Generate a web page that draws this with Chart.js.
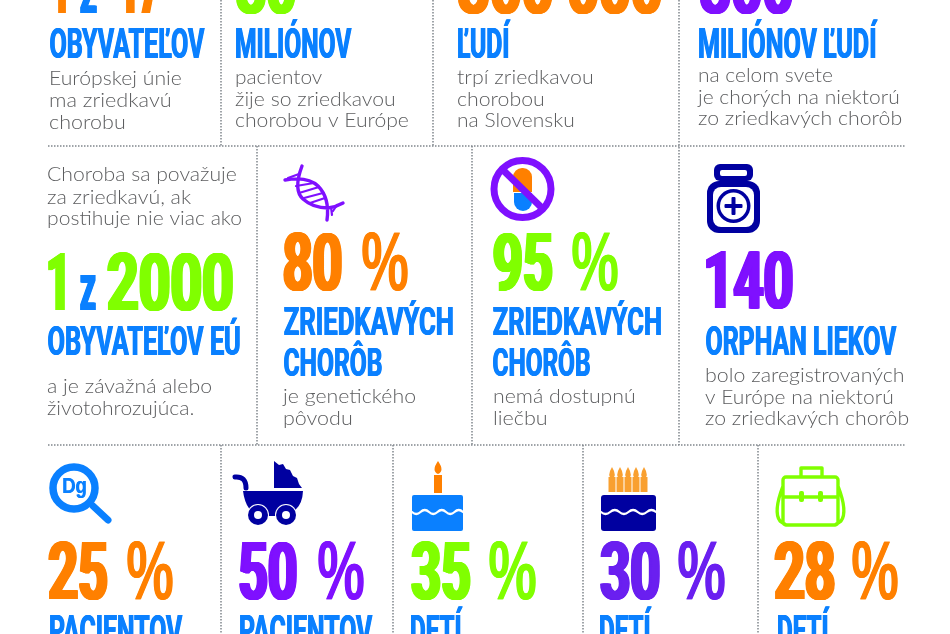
<!DOCTYPE html>
<html lang="sk">
<head>
<meta charset="utf-8">
<title>Zriedkavé choroby</title>
<script src="https://cdn.jsdelivr.net/npm/chart.js@4"></script>
<style>
html, body { margin: 0; background: #fff; overflow: hidden; }
canvas { display: block; }
</style>
</head>
<body>
<canvas id="infographic" width="950" height="634"></canvas>
<script>
// values
const topFigures = ['1', '17', '30', '300 000', '300'];
const middleFigures = ['1', '2000', '140'];
const percentValues = [80, 95, 25, 50, 35, 30, 28];
const headings = ['OBYVATEĽOV', 'MILIÓNOV', 'ĽUDÍ', 'MILIÓNOV ĽUDÍ', 'OBYVATEĽOV EÚ',
    'ZRIEDKAVÝCH', 'CHORÔB', 'ZRIEDKAVÝCH', 'CHORÔB', 'ORPHAN LIEKOV',
    'PACIENTOV', 'PACIENTOV', 'DETÍ', 'DETÍ', 'DETÍ'];
const captions = ['Európskej únie', 'ma zriedkavú', 'chorobu',
    'pacientov', 'žije so zriedkavou', 'chorobou v Európe',
    'trpí zriedkavou', 'chorobou', 'na Slovensku',
    'na celom svete', 'je chorých na niektorú', 'zo zriedkavých chorôb',
    'Choroba sa považuje', 'za zriedkavú, ak', 'postihuje nie viac ako',
    'a je závažná alebo', 'životohrozujúca.',
    'je genetického', 'pôvodu',
    'nemá dostupnú', 'liečbu',
    'bolo zaregistrovaných', 'v Európe na niektorú', 'zo zriedkavých chorôb'];

const ORANGE = '#ff8000', GREEN = '#80ff00', BLUE = '#0a80ff', PURPLE = '#7f10ff', NAVY = '#0000a0';

// layout: left, right, baseline (and colour) of each text above, same order
const topFigureBoxes = [[53, 66, 13, ORANGE], [120, 160, 13, ORANGE], [236, 296, 13, GREEN], [458, 662, 13, ORANGE], [700, 793, 13, PURPLE]];
const middleFigureBoxes = [[48, 65, 310, GREEN], [107, 233, 310, GREEN], [706, 793, 308, PURPLE]];
const percentBoxes = [[283, 342, 362, 408, 290, ORANGE], [493, 553, 572, 618, 290, GREEN],
    [48, 108, 127, 173, 599, ORANGE], [239, 297, 318, 364, 599, PURPLE],
    [411, 471, 489, 536, 599, GREEN], [600, 660, 678, 725, 599, '#6a1ff0'], [774, 835, 852, 898, 599, ORANGE]];
const zBoxes = [[80, 97, 13], [80, 96, 310]];
const headingBoxes = [[50, 205, 58, 30], [236, 352, 58, 30], [458, 511, 58, 30], [699, 878, 58, 30], [48, 240, 355, 29],
    [284, 453, 335, 28], [284, 382, 376, 28], [493, 661, 335, 28], [493, 590, 376, 28], [706, 897, 355, 29],
    [50, 183, 645, 30], [240, 373, 645, 30], [411, 463, 645, 30], [600, 652, 645, 30], [778, 830, 645, 30]];
const captionBoxes = [[50, 181, 85], [50, 170, 107], [50, 124, 129],
    [236, 322, 84], [236, 394, 106], [236, 408, 127],
    [458, 592, 84], [458, 543, 106], [458, 573, 127],
    [699, 832, 82], [699, 898, 104], [699, 901, 125],
    [48, 236, 181], [48, 191, 204], [48, 241, 225],
    [48, 211, 393], [48, 193, 415],
    [284, 415, 403], [284, 351, 425],
    [494, 634, 403], [494, 546, 425],
    [706, 903, 382], [706, 892, 404], [706, 908, 425]];
const dividerPaths = [
    [[48, 146], [906, 146]], [[48, 445], [906, 445]],
    [[221, 0], [221, 146]], [[433, 0], [433, 146]], [[679, 0], [679, 445]],
    [[257, 146], [257, 445]], [[472, 146], [472, 445]],
    [[221, 445], [221, 634]], [[393, 445], [393, 634]], [[583, 445], [583, 634]], [[758, 445], [758, 634]]
];

const HEAD_FONT = '700 100px Roboto';
const PERCENT_FONT = 'bold 100px "Liberation Sans"';
const BODY_FONT = '300 100px Lato';

// draws text so its ink fills x0..x1 with capital height h over the baseline;
// the squeezed fonts lose their stems, so bold repeats the fill sideways
function fitText(ctx, chart, text, x0, x1, base, h, font, color, bold) {
    const sx = chart.scales.x, sy = chart.scales.y;
    const spread = bold || 0;
    ctx.save();
    ctx.font = font;
    ctx.textBaseline = 'alphabetic';
    ctx.textAlign = 'left';
    const m = ctx.measureText(text);
    const cap = ctx.measureText('H').actualBoundingBoxAscent;
    const inkW = m.actualBoundingBoxRight + m.actualBoundingBoxLeft;
    const kx = (x1 - x0 - spread) / inkW, ky = h / cap;
    ctx.translate(sx.getPixelForValue(x0) + m.actualBoundingBoxLeft * kx, sy.getPixelForValue(base));
    ctx.scale(kx, ky);
    ctx.fillStyle = color;
    ctx.fillText(text, 0, 0);
    for (let d = 0.5; d <= spread; d += 0.5) {
        ctx.fillText(text, d / kx, 0);
    }
    ctx.restore();
}

// body lines start from the text origin so that a column stays flush
function captionText(ctx, chart, text, x0, x1, base) {
    ctx.save();
    ctx.font = BODY_FONT;
    ctx.textBaseline = 'alphabetic';
    ctx.textAlign = 'left';
    const m = ctx.measureText(text);
    const cap = ctx.measureText('H').actualBoundingBoxAscent;
    const originX = x0 - 1;
    ctx.translate(chart.scales.x.getPixelForValue(originX), chart.scales.y.getPixelForValue(base));
    ctx.scale((x1 - originX) / m.actualBoundingBoxRight, 14 / cap);
    ctx.fillStyle = '#5c5d5f';
    ctx.fillText(text, 0, 0);
    ctx.restore();
}

function disc(ctx, x, y, r, color) {
    ctx.fillStyle = color;
    ctx.beginPath();
    ctx.arc(x, y, r, 0, Math.PI * 2);
    ctx.fill();
}

function line(ctx, x0, y0, x1, y1, w, color) {
    ctx.strokeStyle = color;
    ctx.lineWidth = w;
    ctx.beginPath();
    ctx.moveTo(x0, y0);
    ctx.lineTo(x1, y1);
    ctx.stroke();
}

function box(ctx, x, y, w, h, r, color) {
    ctx.fillStyle = color;
    ctx.beginPath();
    ctx.roundRect(x, y, w, h, r);
    ctx.fill();
}

function flame(ctx, x, top, bottom, w, color) {
    ctx.fillStyle = color;
    ctx.beginPath();
    ctx.moveTo(x, top);
    ctx.quadraticCurveTo(x + w, bottom - 3, x, bottom);
    ctx.quadraticCurveTo(x - w, bottom - 3, x, top);
    ctx.fill();
}

function wave(ctx, x0, x1, y) {
    const step = (x1 - x0) / 6;
    ctx.strokeStyle = '#fff';
    ctx.lineWidth = 2.2;
    ctx.beginPath();
    ctx.moveTo(x0, y);
    for (let i = 0; i < 6; i++) {
        ctx.quadraticCurveTo(x0 + step * (i + 0.5), y + (i % 2 ? -4 : 4), x0 + step * (i + 1), y);
    }
    ctx.stroke();
}

// the scales map one unit to one pixel, so the icons use picture coordinates
function drawIcons(ctx) {
    ctx.lineCap = 'round';

    // dna
    ctx.strokeStyle = PURPLE;
    ctx.lineWidth = 3.4;
    ctx.beginPath();
    ctx.moveTo(302, 166);
    ctx.quadraticCurveTo(293, 190, 303, 199);
    ctx.quadraticCurveTo(313, 208, 328, 208);
    ctx.quadraticCurveTo(336, 207, 343, 203);
    ctx.moveTo(285, 180);
    ctx.quadraticCurveTo(308, 176, 318, 186);
    ctx.quadraticCurveTo(330, 198, 327, 220);
    ctx.stroke();
    [[288, 178, 299, 174], [296, 186, 314, 183], [299, 193, 319, 187], [304, 198, 323, 193], [310, 203, 325, 198], [331, 207, 332, 215], [337, 205, 333, 211]]
        .forEach(r => line(ctx, r[0], r[1], r[2], r[3], 2.2, PURPLE));

    // crossed out pill
    ctx.lineCap = 'butt';
    box(ctx, 513, 168, 19, 24, [9, 9, 0, 0], ORANGE);
    box(ctx, 514, 193, 18, 18, [0, 0, 9, 9], BLUE);
    ctx.strokeStyle = PURPLE;
    ctx.lineWidth = 7;
    ctx.beginPath();
    ctx.arc(522.5, 189, 28.5, 0, Math.PI * 2);
    ctx.stroke();
    line(ctx, 503, 170, 543, 209, 7, PURPLE);

    // medicine bottle
    box(ctx, 714, 164, 39, 17, 6, NAVY);
    box(ctx, 720, 170, 27, 6, 2, '#fff');
    box(ctx, 707, 181, 53, 52, 12, NAVY);
    box(ctx, 713, 187, 41, 40, 8, '#fff');
    disc(ctx, 733.5, 206, 17, NAVY);
    disc(ctx, 733.5, 206, 13.5, '#fff');
    box(ctx, 731.5, 197, 4, 18, 1, NAVY);
    box(ctx, 724.5, 204, 18, 4, 1, NAVY);

    // magnifier
    ctx.lineCap = 'round';
    line(ctx, 93, 506, 108, 520, 7, BLUE);
    ctx.strokeStyle = BLUE;
    ctx.lineWidth = 7.5;
    ctx.beginPath();
    ctx.arc(74, 488, 21, 0, Math.PI * 2);
    ctx.stroke();

    // pram
    ctx.fillStyle = NAVY;
    ctx.beginPath();
    ctx.moveTo(274, 461);
    [[279, 465], [283, 464], [286, 469], [290, 470], [293, 476], [297, 478], [299, 484], [302, 488], [274, 488]]
        .forEach(p => ctx.lineTo(p[0], p[1]));
    ctx.closePath();
    ctx.fill();
    ctx.beginPath();
    ctx.moveTo(243, 491);
    ctx.lineTo(303, 491);
    ctx.quadraticCurveTo(302, 516, 275, 516);
    ctx.lineTo(262, 516);
    ctx.quadraticCurveTo(246, 514, 243, 491);
    ctx.fill();
    ctx.strokeStyle = NAVY;
    ctx.lineWidth = 5;
    ctx.beginPath();
    ctx.moveTo(235, 477);
    ctx.quadraticCurveTo(246, 476, 246, 488);
    ctx.stroke();
    [258, 286].forEach(x => {
        disc(ctx, x, 515, 11, '#fff');
        disc(ctx, x, 515, 10, NAVY);
        disc(ctx, x, 515, 4, '#fff');
    });

    // cake with one candle
    box(ctx, 412, 495, 51, 36, 2, BLUE);
    wave(ctx, 412, 463, 512);
    box(ctx, 434, 475, 8, 18, 0, ORANGE);
    flame(ctx, 438, 461, 474, 7, ORANGE);

    // cake with five candles
    box(ctx, 601, 495, 55, 36, 3, NAVY);
    wave(ctx, 601, 656, 512);
    [612, 620, 628, 636, 644].forEach(x => {
        box(ctx, x - 3.5, 477, 7, 15, 0, '#f9a030');
        flame(ctx, x, 467, 479, 5.5, '#f9a030');
    });

    // briefcase
    ctx.strokeStyle = GREEN;
    ctx.lineWidth = 3.4;
    ctx.lineJoin = 'round';
    ctx.beginPath();
    ctx.roundRect(783, 477, 55, 48, 3);
    ctx.moveTo(783, 497);
    ctx.lineTo(838, 497);
    ctx.moveTo(801, 476);
    ctx.lineTo(801, 468);
    ctx.lineTo(822, 468);
    ctx.lineTo(822, 476);
    ctx.moveTo(783, 486);
    ctx.quadraticCurveTo(773, 512, 780, 521);
    ctx.lineTo(786, 525);
    ctx.moveTo(838, 486);
    ctx.quadraticCurveTo(848, 512, 841, 521);
    ctx.lineTo(835, 525);
    ctx.stroke();
    box(ctx, 799, 491, 5, 11, 2, GREEN);
    box(ctx, 818, 491, 5, 11, 2, GREEN);
}

const pagePlugin = {
    id: 'page',
    afterDatasetsDraw(chart) {
        const ctx = chart.ctx;
        ctx.save();
        drawIcons(ctx);
        ctx.restore();

        topFigures.forEach((t, i) => {
            const b = topFigureBoxes[i];
            fitText(ctx, chart, t, b[0], b[1], b[2], 58, HEAD_FONT, b[3], 3.5);
        });
        middleFigures.forEach((t, i) => {
            const b = middleFigureBoxes[i];
            fitText(ctx, chart, t, b[0], b[1], b[2], 58, HEAD_FONT, b[3], 3.5);
        });
        zBoxes.forEach(b => fitText(ctx, chart, 'z', b[0], b[1], b[2], 48, HEAD_FONT, BLUE, 2));
        percentValues.forEach((v, i) => {
            const b = percentBoxes[i];
            fitText(ctx, chart, String(v), b[0], b[1], b[4], 58, HEAD_FONT, b[5], 3.5);
            fitText(ctx, chart, '%', b[2], b[3], b[4], 58, PERCENT_FONT, b[5], 0.5);
        });
        headings.forEach((t, i) => {
            const b = headingBoxes[i];
            fitText(ctx, chart, t, b[0], b[1], b[2], b[3], HEAD_FONT, BLUE, 1);
        });
        captions.forEach((t, i) => {
            const b = captionBoxes[i];
            captionText(ctx, chart, t, b[0], b[1], b[2]);
        });
        fitText(ctx, chart, 'Dg', 63, 86, 493, 15, 'bold 100px "Liberation Sans"', BLUE, 0.5);
    }
};

new Chart(document.getElementById('infographic'), {
    type: 'scatter',
    data: {
        datasets: dividerPaths.map(path => ({
            data: path.map(p => ({ x: p[0], y: p[1] })),
            showLine: true,
            pointRadius: 0,
            borderColor: '#80868c',
            borderWidth: 1.5,
            borderDash: [1.5, 1.5]
        }))
    },
    options: {
        responsive: false,
        animation: false,
        layout: { padding: 0 },
        plugins: { legend: { display: false }, tooltip: { enabled: false } },
        scales: {
            x: { type: 'linear', display: false, min: 0, max: 950 },
            y: { type: 'linear', display: false, min: 0, max: 634, reverse: true }
        }
    },
    plugins: [pagePlugin]
});
</script>
</body>
</html>
